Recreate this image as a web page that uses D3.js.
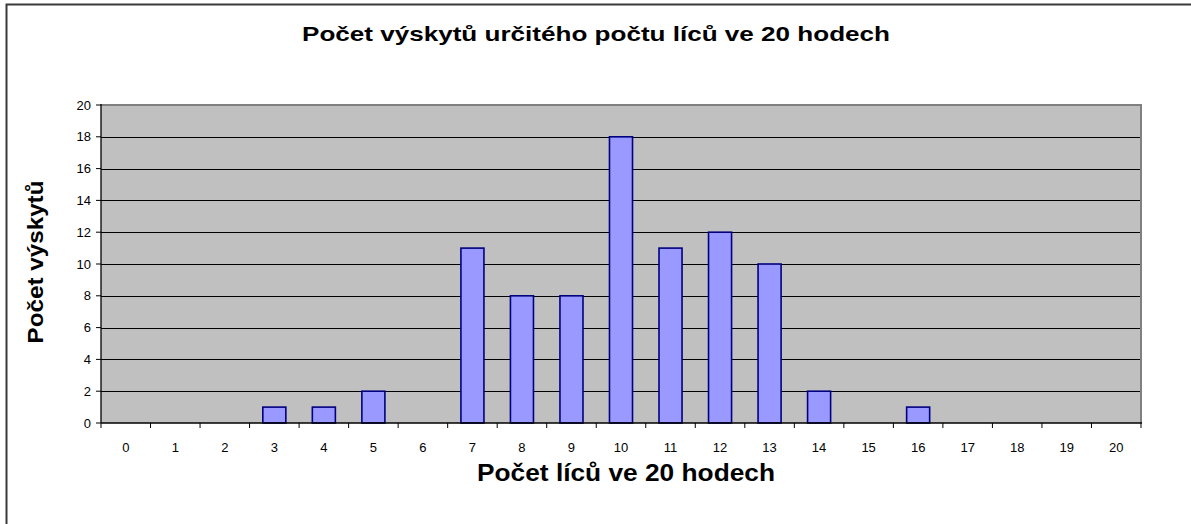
<!DOCTYPE html>
<html><head><meta charset="utf-8">
<script src="https://cdn.jsdelivr.net/npm/d3@7"></script>
<style>body{margin:0;background:#fff}svg{display:block}</style>
</head><body>
<svg id="c" width="1191" height="524"></svg>
<script>
const categories = ["0","1","2","3","4","5","6","7","8","9","10","11","12","13","14","15","16","17","18","19","20"];
const counts = [0,0,0,1,1,2,0,11,8,8,18,11,12,10,2,0,1,0,0,0,0];
const yTicks = [0,2,4,6,8,10,12,14,16,18,20];
const title = "Počet výskytů určitého počtu líců ve 20 hodech";
const xTitle = "Počet líců ve 20 hodech";
const yTitle = "Počet výskytů";

const svg = d3.select("#c");
const L = 101, R = 1141, T = 105, B = 423;
const font = "Arial, 'Liberation Sans', sans-serif";

// outer frame
svg.append("path").attr("d", `M6.5,524 V4.5 H1191`).attr("fill","none").attr("stroke","#3a3a3a").attr("stroke-width",2);

const x = d3.scaleBand().domain(categories).range([L, R]).padding(0);
const y = d3.scaleLinear().domain([0, 20]).range([B, T]);

// plot background
svg.append("rect").attr("x", L).attr("y", T).attr("width", R - L).attr("height", B - T).attr("fill", "#c0c0c0");
// gridlines
svg.append("g").selectAll("line").data(yTicks.filter(v => v > 0 && v < 20)).join("line")
  .attr("x1", L).attr("x2", R).attr("y1", d => Math.round(y(d)) + 0.5).attr("y2", d => Math.round(y(d)) + 0.5)
  .attr("stroke", "#000").attr("stroke-width", 1);
// plot border top/right
svg.append("path").attr("d", `M${L},${T} H${R} V${B}`).attr("fill", "none").attr("stroke", "#808080").attr("stroke-width", 2);

// bars
const bw = x.step() * 0.465;
svg.append("g").selectAll("rect").data(counts.map((v, i) => ({c: categories[i], v}))).join("rect")
  .filter(d => d.v > 0)
  .attr("x", d => x(d.c) + (x.step() - bw) / 2)
  .attr("y", d => y(d.v))
  .attr("width", bw)
  .attr("height", d => y(0) - y(d.v))
  .attr("fill", "#9999ff").attr("stroke", "#000080").attr("stroke-width", 1.6);

// axes lines
svg.append("line").attr("x1", L).attr("x2", R + 1).attr("y1", B).attr("y2", B).attr("stroke", "#000").attr("stroke-width", 1.3);
svg.append("line").attr("x1", L).attr("x2", L).attr("y1", T - 1).attr("y2", B).attr("stroke", "#000").attr("stroke-width", 1.3);

// y ticks & labels
const yg = svg.append("g");
yg.selectAll("line").data(yTicks).join("line")
  .attr("x1", L - 5).attr("x2", L).attr("y1", d => y(d)).attr("y2", d => y(d)).attr("stroke", "#000");
yg.selectAll("text").data(yTicks).join("text")
  .attr("x", L - 10).attr("y", d => y(d) + 4.5).attr("text-anchor", "end")
  .attr("font-family", font).attr("font-size", 13).attr("fill", "#000").text(d => d);

// x ticks (boundaries) & labels
const bounds = categories.map(c => x(c)).concat([R]);
svg.append("g").selectAll("line").data(bounds).join("line")
  .attr("x1", d => d).attr("x2", d => d).attr("y1", B).attr("y2", B + 5).attr("stroke", "#000");
svg.append("g").selectAll("text").data(categories).join("text")
  .attr("x", d => x(d) + x.step() / 2).attr("y", 452).attr("text-anchor", "middle")
  .attr("font-family", font).attr("font-size", 13).attr("fill", "#000").text(d => d);

// titles
svg.append("text").attr("x", 596).attr("y", 41).attr("text-anchor", "middle")
  .attr("font-family", font).attr("font-weight", "bold").attr("font-size", 21)
  .attr("textLength", 588).attr("lengthAdjust", "spacingAndGlyphs").text(title);
svg.append("text").attr("x", 626).attr("y", 481).attr("text-anchor", "middle")
  .attr("font-family", font).attr("font-weight", "bold").attr("font-size", 24)
  .attr("textLength", 298).attr("lengthAdjust", "spacingAndGlyphs").text(xTitle);
svg.append("text").attr("transform", "translate(43,262) rotate(-90)").attr("text-anchor", "middle")
  .attr("font-family", font).attr("font-weight", "bold").attr("font-size", 22)
  .attr("textLength", 163).attr("lengthAdjust", "spacingAndGlyphs").text(yTitle);
</script>
</body></html>
